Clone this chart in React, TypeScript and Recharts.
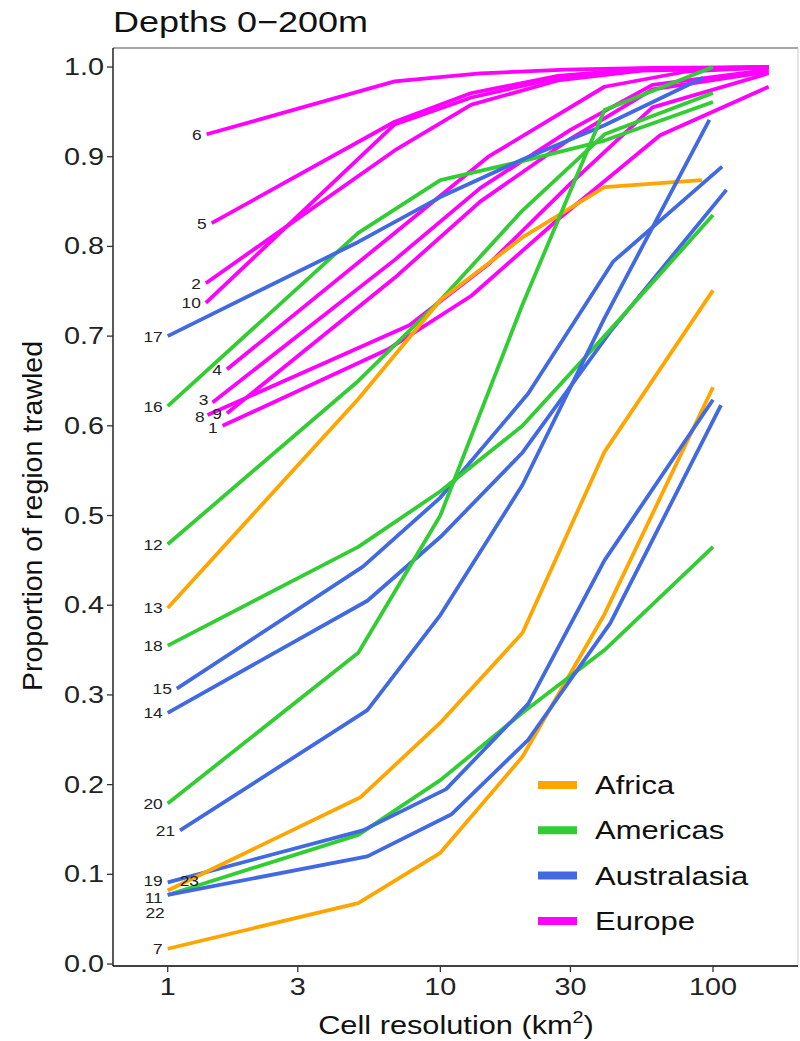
import React from 'react';
import { LineChart, Line, XAxis, YAxis, ReferenceLine } from 'recharts';

const lineIds = [1, 2, 3, 4, 5, 6, 7, 8, 9, 10, 11, 12, 13, 14, 15, 16, 17, 18, 19, 20, 21, 22, 23];
const lineRegions = [
  'Europe', 'Europe', 'Europe', 'Europe', 'Europe', 'Europe', 'Africa', 'Europe', 'Europe', 'Europe',
  'Americas', 'Americas', 'Africa', 'Australasia', 'Australasia', 'Americas', 'Australasia', 'Americas',
  'Australasia', 'Americas', 'Australasia', 'Australasia', 'Africa',
];
const cellResolutions: number[][] = [
  [1.59, 6.4, 13, 27, 64, 160],
  [1.38, 6.8, 13, 27, 55, 160],
  [1.46, 6.8, 14, 30, 60, 160],
  [1.65, 6.8, 15, 40, 80, 160],
  [1.45, 6.8, 13, 27, 55, 160],
  [1.39, 6.8, 14, 29, 60, 160],
  [1, 5, 10, 20, 40, 100],
  [1.4, 7.7, 15, 30, 60, 160],
  [1.65, 6.8, 14, 30, 60, 160],
  [1.38, 6.8, 13, 27, 55, 160],
  [1, 5, 10, 20, 40, 100],
  [1, 5, 10, 20, 40, 100],
  [1, 5, 10, 20, 40, 91],
  [1, 5.4, 10, 20, 42, 112],
  [1.08, 5.2, 10, 21, 43, 108],
  [1, 5, 10, 20, 40, 100],
  [1, 5, 10, 20, 40, 92],
  [1, 5, 10, 20, 40, 100],
  [1, 5.2, 10.5, 21, 40, 100],
  [1, 5, 10, 20, 40, 100],
  [1.11, 5.4, 10, 20, 40, 97],
  [1, 5.4, 11, 21, 42, 107],
  [1, 5.1, 10, 20, 40, 100],
];
const proportions: number[][] = [
  [0.6, 0.685, 0.745, 0.83, 0.924, 0.978],
  [0.759, 0.907, 0.958, 0.985, 0.996, 0.999],
  [0.626, 0.785, 0.865, 0.93, 0.98, 0.997],
  [0.663, 0.815, 0.9, 0.978, 0.995, 1.0],
  [0.826, 0.939, 0.971, 0.99, 0.998, 1.0],
  [0.925, 0.984, 0.993, 0.997, 0.999, 1.0],
  [0.017, 0.068, 0.124, 0.231, 0.39, 0.643],
  [0.612, 0.712, 0.78, 0.87, 0.955, 0.993],
  [0.614, 0.765, 0.85, 0.92, 0.975, 0.995],
  [0.737, 0.936, 0.966, 0.988, 0.997, 1.0],
  [0.077, 0.144, 0.205, 0.28, 0.35, 0.465],
  [0.468, 0.65, 0.74, 0.84, 0.925, 0.971],
  [0.397, 0.63, 0.74, 0.81, 0.866, 0.874],
  [0.28, 0.405, 0.476, 0.57, 0.705, 0.863],
  [0.307, 0.443, 0.52, 0.636, 0.783, 0.889],
  [0.622, 0.815, 0.874, 0.895, 0.918, 0.961],
  [0.7, 0.805, 0.855, 0.897, 0.935, 0.988],
  [0.355, 0.465, 0.527, 0.6, 0.7, 0.835],
  [0.091, 0.149, 0.195, 0.29, 0.45, 0.629],
  [0.179, 0.347, 0.5, 0.735, 0.952, 1.0],
  [0.149, 0.283, 0.389, 0.534, 0.72, 0.941],
  [0.077, 0.12, 0.167, 0.25, 0.38, 0.623],
  [0.082, 0.186, 0.269, 0.369, 0.571, 0.751],
];
const regionNames = ['Africa', 'Americas', 'Australasia', 'Europe'];
const xTicks = [1, 3, 10, 30, 100];
const yTicks = [0, 0.1, 0.2, 0.3, 0.4, 0.5, 0.6, 0.7, 0.8, 0.9, 1.0];

const regionColors: Record<string, string> = {
  Africa: '#FFA500',
  Americas: '#32CD32',
  Australasia: '#4169E1',
  Europe: '#FF00FF',
};
// label placement tweaks: [dx, dy, anchor]
const labelTweaks: Record<number, [number, number, string]> = {
  23: [12, -10, 'start'],
  22: [-3, 18, 'end'],
  19: [-5, -2, 'end'],
  11: [-5, 3, 'end'],
  3: [-4, -3, 'end'],
  1: [-5, 2, 'end'],
  8: [-3, 1, 'end'],
};

const FONT = '"Liberation Sans", Arial, sans-serif';
const SX = 1.2;

const series = lineIds.map((id, i) => ({
  id,
  region: lineRegions[i],
  points: cellResolutions[i].map((x, j) => ({ x, y: proportions[i][j] })),
}));

const XTick = (props: any) => {
  const { x, y, payload } = props;
  return (
    <text
      transform={`translate(${x},${y + 21}) scale(${SX},1)`}
      textAnchor="middle"
      fontSize={24}
      fontFamily={FONT}
      fill="#222"
    >
      {payload.value}
    </text>
  );
};

const YTick = (props: any) => {
  const { x, y, payload } = props;
  return (
    <text
      transform={`translate(${x},${y + 8}) scale(${SX},1)`}
      textAnchor="end"
      fontSize={24}
      fontFamily={FONT}
      fill="#222"
    >
      {Number(payload.value).toFixed(1)}
    </text>
  );
};

const makeDot = (id: number) => (p: any) => {
  if (p.index !== 0) return <g key={`d-${id}-${p.index}`} />;
  const tw = labelTweaks[id] || [-5, 0, 'end'];
  return (
    <text
      key={`d-${id}-0`}
      transform={`translate(${p.cx + tw[0]},${p.cy + tw[1] + 5.5}) scale(1.12,1)`}
      textAnchor={tw[2] as any}
      fontSize={15.5}
      fontFamily={FONT}
      fill="#222"
    >
      {id}
    </text>
  );
};

export default function App() {
  return (
    <div style={{ position: 'absolute', left: 0, top: 0, width: 800, height: 1041, background: '#fff' }}>
      <LineChart width={800} height={1041} margin={{ top: 48, right: 2, bottom: 45, left: 13 }}>
        <XAxis
          type="number"
          dataKey="x"
          scale="log"
          domain={[0.63, 205]}
          allowDataOverflow
          ticks={xTicks}
          tickSize={6}
          tickLine={{ stroke: '#333', strokeWidth: 1.3 }}
          axisLine={{ stroke: '#000', strokeWidth: 1.3 }}
          tick={<XTick />}
          height={30}
          interval={0}
        />
        <YAxis
          type="number"
          dataKey="y"
          domain={[-0.0022, 1.0212]}
          allowDataOverflow
          ticks={yTicks}
          tickSize={6}
          tickMargin={3}
          tickLine={{ stroke: '#333', strokeWidth: 1.3 }}
          axisLine={{ stroke: '#000', strokeWidth: 1.3 }}
          tick={<YTick />}
          width={100}
          interval={0}
        />
        <ReferenceLine y={1.0212} stroke="#888" strokeWidth={1.5} />
        <ReferenceLine x={205} stroke="#ccc" strokeWidth={1} />
        {series.map((s) => (
          <Line
            key={s.id}
            data={s.points}
            dataKey="y"
            type="linear"
            stroke={regionColors[s.region]}
            strokeWidth={3.8}
            strokeLinejoin="round"
            dot={makeDot(s.id)}
            activeDot={false}
            isAnimationActive={false}
            legendType="none"
          />
        ))}
      </LineChart>
      <svg
        width={800}
        height={1041}
        style={{ position: 'absolute', left: 0, top: 0, pointerEvents: 'none' }}
      >
        <text transform={`translate(113,32) scale(1.22,1)`} fontSize={29.5} fontFamily={FONT} fill="#111">
          Depths 0−200m
        </text>
        <text
          transform="translate(42,516) rotate(-90)"
          textAnchor="middle"
          fontSize={28.5}
          fontFamily={FONT}
          fill="#111"
        >
          Proportion of region trawled
        </text>
        <text transform={`translate(456,1034) scale(1.16,1)`} textAnchor="middle" fontSize={26.5} fontFamily={FONT} fill="#111">
          Cell resolution (km
          <tspan dy={-11} fontSize={17}>2</tspan>
          <tspan dy={11}>)</tspan>
        </text>
        {regionNames.map((r, i) => (
          <g key={r}>
            <line x1={538} x2={577} y1={785 + i * 45.3} y2={785 + i * 45.3} stroke={regionColors[r]} strokeWidth={8} />
            <text
              transform={`translate(595,${785 + i * 45.3 + 9}) scale(1.24,1)`}
              fontSize={25}
              fontFamily={FONT}
              fill="#111"
            >
              {r}
            </text>
          </g>
        ))}
      </svg>
    </div>
  );
}
